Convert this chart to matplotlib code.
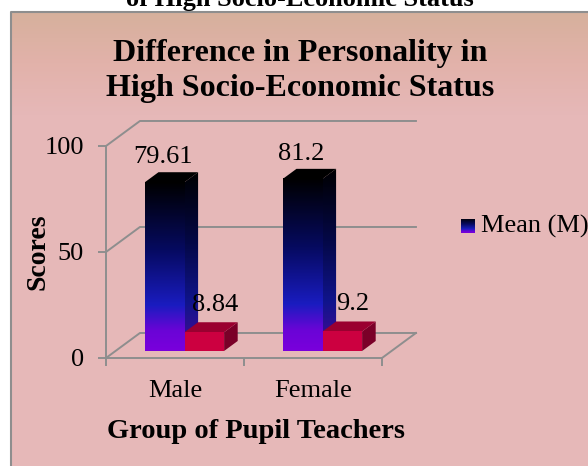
import numpy as np
from matplotlib import pyplot as plt
from matplotlib import patches
from matplotlib.colors import LinearSegmentedColormap

plt.rcParams['font.family'] = ['Liberation Serif', 'DejaVu Serif']

groups = ['Male', 'Female']
mean_values = [79.61, 81.2]
sd_values = [8.84, 9.2]
y_ticks = [0, 50, 100]
legend_label = 'Mean (M)'
title = 'Difference in Personality in\nHigh Socio-Economic Status'
cut_caption = 'of High Socio-Economic Status'
x_title = 'Group of Pupil Teachers'
y_title = 'Scores'

W, H = 588, 466
GRID = '#8e8e8e'
# oblique depth of the box, data units
DEPTH_X = 0.246
DEPTH_Y = 11.8
BAR_W = 0.287
D0, D1 = 0.28, 0.68

front_cmap = LinearSegmentedColormap.from_list('front', [(0, '#7a00dc'), (0.12, '#6a04d6'), (0.27, '#1a1cc0'),
                                                         (0.6, '#060a60'), (1, '#000000')])
side_cmap = LinearSegmentedColormap.from_list('side', [(0, '#4a0a98'), (0.27, '#10148c'),
                                                       (0.6, '#040848'), (1, '#000000')])
RAMP = np.linspace(0, 1, 256).reshape(-1, 1)

fig = plt.figure(figsize=(W / 100, H / 100), dpi=100, facecolor='white')

# chart area background
bg = fig.add_axes([0, 0, 1, 1])
bg_cmap = LinearSegmentedColormap.from_list('bg', ['#d6b09c', '#e2b2aa', '#e6b8b8'])
bg.imshow(RAMP, cmap=bg_cmap, extent=[11, W + 5, 12, 115], origin='lower', aspect='auto', zorder=0)
bg.add_patch(patches.Rectangle((11, 115), W, H, facecolor='#e6b8b8', edgecolor='none', zorder=0))
bg.plot([W + 5, 11, 11], [12, 12, H + 5], color=GRID, lw=1.5, zorder=1)
bg.set_xlim(0, W)
bg.set_ylim(H, 0)
bg.axis('off')

ax = fig.add_axes([106 / W, 1 - 358 / H, 276 / W, 212 / H])
ax.patch.set_alpha(0)
ax.set_xlim(0, len(groups))
ax.set_ylim(0, 100)


def grad(cmap, x0, x1, y0, y1, clip=None, z=3):
    im = ax.imshow(RAMP, cmap=cmap, origin='lower', extent=[x0, x1, y0, y1], aspect='auto', zorder=z)
    if clip is not None:
        ax.add_patch(clip)
        im.set_clip_path(clip)
    else:
        im.set_clip_on(False)


def poly(pts, color=None, z=3):
    return patches.Polygon(pts, closed=True, facecolor=color if color else 'none', edgecolor='none', zorder=z,
                           clip_on=False, transform=ax.transData)


# walls
for v in y_ticks:
    ax.plot([0, DEPTH_X, len(groups) + DEPTH_X], [v, v + DEPTH_Y, v + DEPTH_Y], color=GRID, lw=1.4, clip_on=False, zorder=1)
ax.plot([len(groups), len(groups) + DEPTH_X], [0, DEPTH_Y], color=GRID, lw=1.4, clip_on=False, zorder=1)

# bars
for i in range(len(groups)):
    m, s = mean_values[i], sd_values[i]
    ox0, oy0 = D0 * DEPTH_X, D0 * DEPTH_Y
    ox1, oy1 = D1 * DEPTH_X, D1 * DEPTH_Y
    center = i + 0.5 + ox0
    l, mid, r = center - BAR_W, center, center + BAR_W

    # mean bar
    dx, dy = ox1 - ox0, oy1 - oy0
    side = poly([(mid, oy0), (mid + dx, oy0 + dy), (mid + dx, oy0 + m + dy), (mid, oy0 + m)], z=3)
    grad(side_cmap, mid, mid + dx, oy0, oy0 + m + dy, clip=side, z=3)
    ax.add_patch(poly([(l, oy0 + m), (l + dx, oy0 + m + dy), (mid + dx, oy0 + m + dy), (mid, oy0 + m)], '#000000', z=4))
    grad(front_cmap, l, mid, oy0, oy0 + m, z=4)

    # second bar
    ax.add_patch(poly([(r, oy0), (r + dx, oy0 + dy), (r + dx, oy0 + s + dy), (r, oy0 + s)], '#7a0028', z=5))
    ax.add_patch(poly([(mid, oy0 + s), (mid + dx, oy0 + s + dy), (r + dx, oy0 + s + dy), (r, oy0 + s)], '#9a0030', z=5))
    ax.add_patch(patches.Rectangle((mid, oy0), BAR_W, s, facecolor='#cc0040', edgecolor='none', zorder=5))

    # value labels
    ax.text((l + mid) / 2 - 0.01, oy0 + m + dy + 1.8, str(m), ha='center', va='bottom', fontsize=19, color='black', zorder=6)
    ax.text((mid + r) / 2 + 0.075, oy0 + s + dy + 3, str(s), ha='center', va='bottom', fontsize=19, color='black', zorder=4)

ax.set_xlim(0, len(groups))
ax.set_ylim(0, 100)

# axes
for sp in ['top', 'right']:
    ax.spines[sp].set_visible(False)
for sp in ['left', 'bottom']:
    ax.spines[sp].set_color(GRID)
    ax.spines[sp].set_linewidth(1.4)
ax.set_yticks(y_ticks)
ax.set_xticks(range(len(groups) + 1))
ax.set_xticklabels([])
ax.set_xticks([i + 0.5 for i in range(len(groups))], minor=True)
ax.set_xticklabels(groups, minor=True, fontsize=19)
ax.tick_params(axis='x', which='major', length=6, width=1.4, color=GRID)
ax.tick_params(axis='x', which='minor', length=0, pad=16)
ax.tick_params(axis='y', length=6, width=1.4, color=GRID, labelsize=19, pad=10)
ax.set_xlabel(x_title, fontsize=20.5, fontweight='bold', va='center')
ax.xaxis.set_label_coords(150 / 276, -73 / 212)
ax.set_ylabel(y_title, fontsize=20, fontweight='bold', va='center')
ax.yaxis.set_label_coords(-68 / 276, 0.5)

# titles
fig.text(300 / W, 1 - 71 / H, title, ha='center', va='center', fontsize=23, fontweight='bold', linespacing=1.3)
fig.text(300 / W, 1 - 6 / H, cut_caption, ha='center', va='baseline', fontsize=19, fontweight='bold')

# legend
sw = fig.add_axes([461 / W, 1 - 233 / H, 14 / W, 14 / H])
sw.imshow(RAMP, cmap=front_cmap, origin='lower', aspect='auto')
sw.axis('off')
fig.text(481 / W, 1 - 226 / H, legend_label, ha='left', va='center', fontsize=19)

fig.savefig('out.png', dpi=100)
